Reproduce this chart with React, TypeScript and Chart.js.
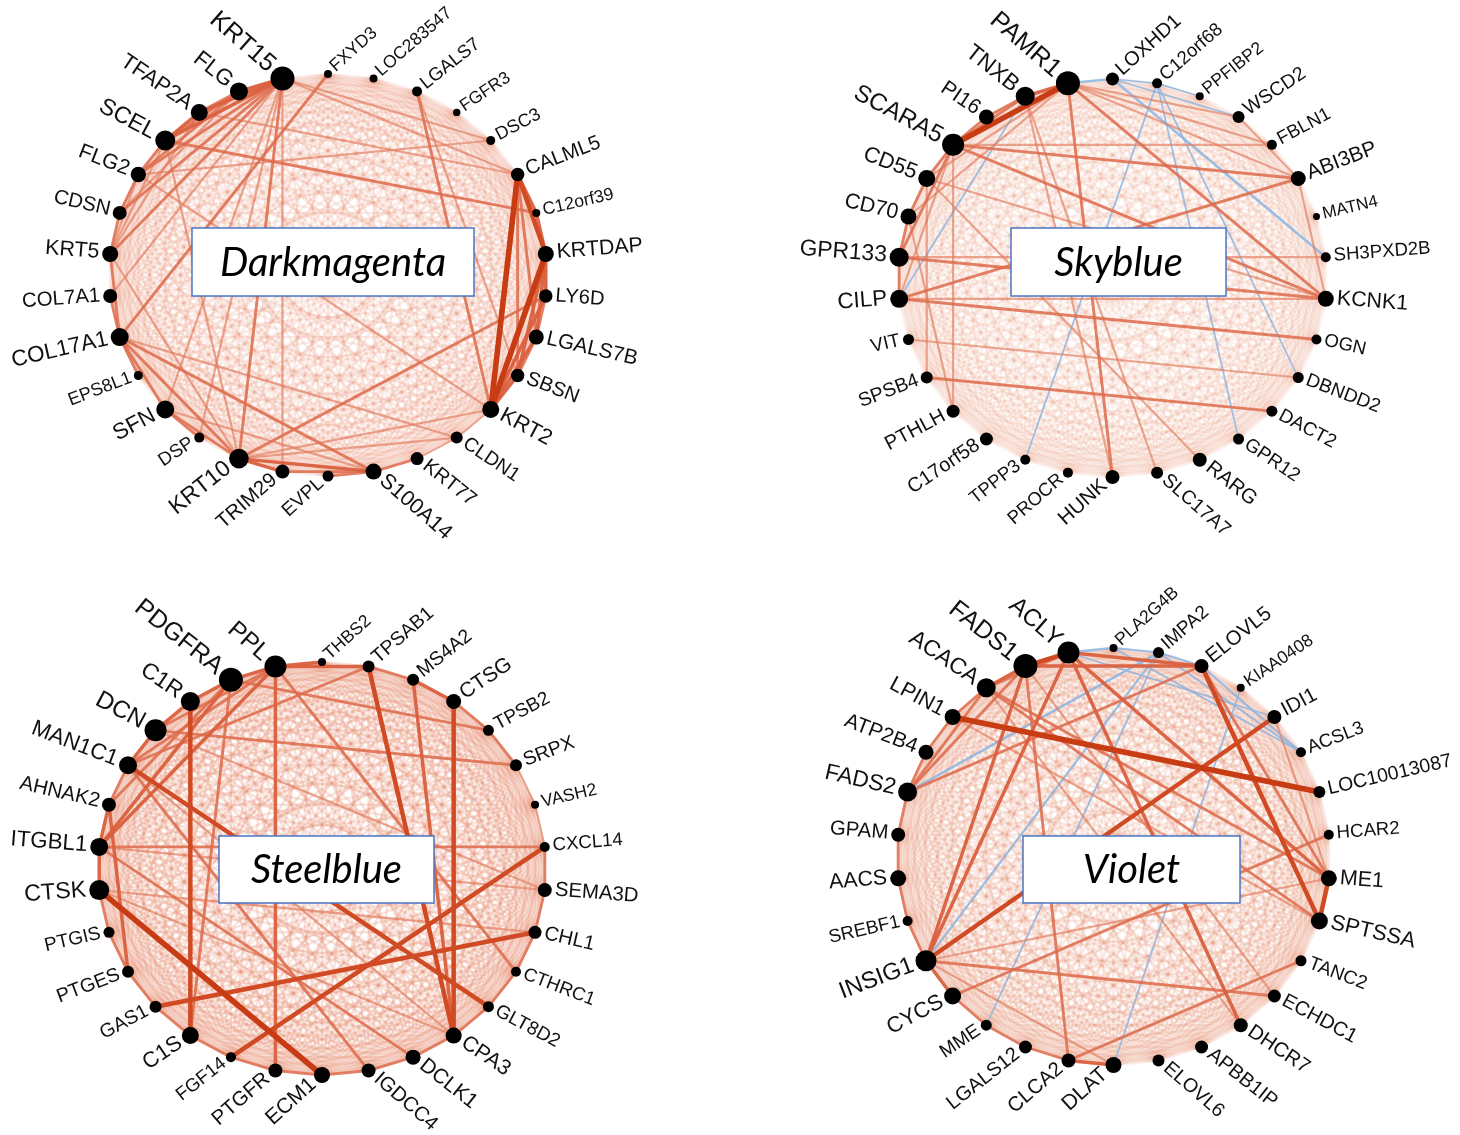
import React, { useEffect, useRef } from "react";
import { Chart, registerables } from "chart.js";
Chart.register(...registerables);

const W = 1460;
const H = 1135;

// ---------------- Darkmagenta module ----------------
const darkmagentaGenes = ["FXYD3","LOC283547","LGALS7","FGFR3","DSC3","CALML5","C12orf39","KRTDAP","LY6D","LGALS7B","SBSN","KRT2","CLDN1","KRT77","S100A14","EVPL","TRIM29","KRT10","DSP","SFN","EPS8L1","COL17A1","COL7A1","KRT5","CDSN","FLG2","SCEL","TFAP2A","FLG","KRT15"];
const darkmagentaSizes = [4,4,5,3.7,4.5,6.7,4,8,6.7,7.5,6.7,8.5,6,6.5,8,5.5,7,9.8,5,9,4.5,9,7,8,7,7.7,10,8.5,9,12];
const darkmagentaEdges: [string, string, number][] = [
  ["CALML5","KRT2",5],["KRTDAP","KRT2",5],["CALML5","KRTDAP",4],["CALML5","C12orf39",3],["C12orf39","KRTDAP",3],
  ["KRTDAP","LY6D",3],["KRTDAP","LGALS7B",3],["KRTDAP","SBSN",3],["LY6D","KRT2",3],["LGALS7B","KRT2",3],["SBSN","KRT2",3],
  ["CALML5","LGALS7B",2],["CALML5","SBSN",2],["LY6D","LGALS7B",2],["LGALS7B","SBSN",2],
  ["KRT15","FLG",3],["KRT15","TFAP2A",3],["KRT15","SCEL",3],["FLG","TFAP2A",2],["TFAP2A","SCEL",3],["SCEL","FLG2",2],
  ["KRT15","FLG2",2],["KRT15","CDSN",2],["KRT15","KRT5",2],["KRT15","COL7A1",1],["FLG","SCEL",2],["FLG","FLG2",2],
  ["FLG","CDSN",1],["TFAP2A","KRT5",1],["KRT15","KRT10",2],["KRT15","TRIM29",1],["KRT15","SFN",1],["KRT15","DSP",1],
  ["KRT15","DSC3",1],["KRT15","CALML5",1],["FXYD3","COL17A1",2],["SCEL","C12orf39",2],["TFAP2A","CALML5",1],["FLG2","DSC3",1],
  ["LGALS7","KRT2",2],["LGALS7","SBSN",1],
  ["KRT10","S100A14",3],["KRT10","TRIM29",3],["TRIM29","S100A14",2],["EVPL","S100A14",2],["KRT10","SFN",2],["SFN","DSP",2],
  ["KRT10","LY6D",2],["KRT10","COL17A1",2],["KRT10","KRT5",1],["KRT10","CLDN1",1],["KRT10","KRT2",1],["COL17A1","SFN",2],
  ["COL17A1","KRT5",2],["COL17A1","S100A14",2],["COL17A1","EPS8L1",2],["COL7A1","COL17A1",2],["KRT5","CDSN",2],["CDSN","FLG2",2],
  ["KRT5","FLG2",1],["KRT5","SCEL",1],["SFN","S100A14",1],["S100A14","KRT77",2],["KRT77","CLDN1",1],["CLDN1","KRT2",1],
  ["SCEL","KRT10",1],["COL17A1","CLDN1",1],["FLG2","KRT2",1]
];
const darkmagentaBlueEdges: [string, string, number][] = [];

// ---------------- Skyblue module ----------------
const skyblueGenes = ["LOXHD1","C12orf68","PPFIBP2","WSCD2","FBLN1","ABI3BP","MATN4","SH3PXD2B","KCNK1","OGN","DBNDD2","DACT2","GPR12","RARG","SLC17A7","HUNK","PROCR","TPPP3","C17orf58","PTHLH","SPSB4","VIT","CILP","GPR133","CD70","CD55","SCARA5","PI16","TNXB","PAMR1"];
const skyblueSizes = [6.5,5,4,6,5,7.5,3.5,5,8,5,5.5,5.5,5.5,7,6,7,5,5,6.5,6.5,6,5.5,9,9.5,8,8.5,11,7.5,9.5,12];
const skyblueEdges: [string, string, number][] = [
  ["PAMR1","SCARA5",5],["PAMR1","TNXB",3],["TNXB","PI16",2],["PI16","SCARA5",2],["SCARA5","CD55",2],["CD55","CD70",2],
  ["CD70","GPR133",2],["GPR133","CILP",2],["SCARA5","ABI3BP",2],["SCARA5","KCNK1",2],["SCARA5","FBLN1",1],["PAMR1","KCNK1",2],
  ["PAMR1","ABI3BP",1],["PAMR1","WSCD2",1],["PAMR1","FBLN1",1],["GPR133","KCNK1",2],["CILP","OGN",2],["CILP","KCNK1",1],
  ["ABI3BP","CILP",2],["SPSB4","DACT2",2],["VIT","DBNDD2",1],["PAMR1","HUNK",2],["TNXB","SLC17A7",1],["CD55","RARG",1],
  ["SCARA5","GPR133",2],["SCARA5","CILP",1],["PAMR1","CD55",1],["PAMR1","CD70",1],["TNXB","SCARA5",2],["PTHLH","CD70",1],
  ["PTHLH","SCARA5",1],["WSCD2","ABI3BP",1],["GPR133","SH3PXD2B",1],["ABI3BP","KCNK1",1],["CD55","KCNK1",1],["HUNK","TNXB",1],
  ["SPSB4","CD55",1]
];
const skyblueBlueEdges: [string, string, number][] = [
  ["PAMR1","LOXHD1",2],["LOXHD1","SH3PXD2B",2],["C12orf68","DBNDD2",1],["C12orf68","GPR12",1],["TPPP3","C12orf68",1],
  ["TNXB","CILP",1],["LOXHD1","C12orf68",1],["C12orf68","PPFIBP2",1],["LOXHD1","WSCD2",1]
];

// ---------------- Steelblue module ----------------
const steelblueGenes = ["THBS2","TPSAB1","MS4A2","CTSG","TPSB2","SRPX","VASH2","CXCL14","SEMA3D","CHL1","CTHRC1","GLT8D2","CPA3","DCLK1","IGDCC4","ECM1","PTGFR","FGF14","C1S","GAS1","PTGES","PTGIS","CTSK","ITGBL1","AHNAK2","MAN1C1","DCN","C1R","PDGFRA","PPL"];
const steelblueSizes = [4,6,6,7.5,5.5,6,4,5,7,6.5,5,5.5,8,7.5,7,8,7,5,8.5,6,6,5.5,10,9,7,9,11,9.5,12,11];
const steelblueEdges: [string, string, number][] = [
  ["CTSK","ECM1",5],["CTSG","CPA3",4],["TPSAB1","CPA3",4],["MS4A2","CPA3",3],["MAN1C1","GLT8D2",4],["GAS1","CHL1",4],
  ["FGF14","CXCL14",4],["C1R","C1S",4],["AHNAK2","PTGES",3],["PPL","PTGFR",3],["PPL","THBS2",3],["PPL","TPSAB1",3],
  ["TPSAB1","MS4A2",2],["MS4A2","CTSG",3],["PPL","ITGBL1",3],["PDGFRA","ITGBL1",3],["PDGFRA","AHNAK2",2],["TPSAB1","MAN1C1",2],
  ["MAN1C1","IGDCC4",2],["ITGBL1","CXCL14",2],["DCN","SRPX",2],["PDGFRA","TPSB2",2],["ITGBL1","DCLK1",2],["CTSK","CHL1",1],
  ["PDGFRA","PPL",3],["C1R","PDGFRA",3],["DCN","C1R",3],["MAN1C1","DCN",3],["AHNAK2","MAN1C1",2],["ITGBL1","AHNAK2",3],
  ["CTSK","ITGBL1",3],["CTSK","PTGIS",2],["PTGIS","PTGES",2],["PTGES","GAS1",2],["GAS1","C1S",2],["C1S","FGF14",2],
  ["FGF14","PTGFR",2],["PTGFR","ECM1",2],["ECM1","IGDCC4",2],["IGDCC4","DCLK1",2],["DCLK1","CPA3",2],["CPA3","GLT8D2",2],
  ["GLT8D2","CTHRC1",2],["CTHRC1","CHL1",2],["CHL1","SEMA3D",2],["SEMA3D","CXCL14",2],["CXCL14","VASH2",1],["VASH2","SRPX",1],
  ["SRPX","TPSB2",2],["TPSB2","CTSG",2],["PPL","CTHRC1",2],["DCN","SEMA3D",1],["PDGFRA","C1S",2],["PPL","DCN",2],
  ["PPL","MAN1C1",2],["CTSK","CPA3",1],["ITGBL1","SEMA3D",1],["MAN1C1","CPA3",1]
];
const steelblueBlueEdges: [string, string, number][] = [];

// ---------------- Violet module ----------------
const violetGenes = ["PLA2G4B","IMPA2","ELOVL5","KIAA0408","IDI1","ACSL3","LOC10013087","HCAR2","ME1","SPTSSA","TANC2","ECHDC1","DHCR7","APBB1IP","ELOVL6","DLAT","CLCA2","LGALS12","MME","CYCS","INSIG1","SREBF1","AACS","GPAM","FADS2","ATP2B4","LPIN1","ACACA","FADS1","ACLY"];
const violetSizes = [4,5.5,7,4,7,5,6,5,8,8.5,5.5,6.5,7,6.5,6,8,7,6.5,5.5,8.5,10.5,5,8,7,9.5,7.5,8,9.5,12,11];
const violetEdges: [string, string, number][] = [
  ["LPIN1","LOC10013087",5],["IDI1","INSIG1",4],["ELOVL5","SPTSSA",4],["ME1","SPTSSA",4],["ACLY","FADS1",4],
  ["FADS1","ACACA",3],["ACACA","LPIN1",2],["LPIN1","ATP2B4",2],["ATP2B4","FADS2",2],["FADS2","GPAM",2],["GPAM","AACS",2],
  ["AACS","SREBF1",2],["SREBF1","INSIG1",2],["INSIG1","CYCS",3],["CYCS","MME",2],["MME","LGALS12",2],["LGALS12","CLCA2",2],
  ["CLCA2","DLAT",3],["FADS1","INSIG1",3],["ACLY","INSIG1",3],["FADS1","CLCA2",2],["ACLY","ELOVL5",3],["FADS1","ELOVL5",3],
  ["ACLY","ME1",3],["ACACA","ME1",2],["ACLY","DHCR7",3],["CYCS","HCAR2",2],["CLCA2","TANC2",2],["INSIG1","ECHDC1",2],
  ["FADS2","ELOVL5",2],["ACACA","SPTSSA",2],["IDI1","ME1",1],["FADS1","FADS2",2],["ACACA","FADS2",2],["ACLY","ACACA",2],
  ["INSIG1","DLAT",1],["ELOVL5","ME1",2],["LPIN1","SPTSSA",1],["ACACA","DHCR7",1],["FADS1","ECHDC1",1],["INSIG1","ME1",1]
];
const violetBlueEdges: [string, string, number][] = [
  ["FADS2","IMPA2",2],["INSIG1","IMPA2",1.5],["ACLY","PLA2G4B",2],["PLA2G4B","IMPA2",1.5],["IMPA2","ELOVL5",1.5],
  ["ELOVL5","ACSL3",1.5],["IMPA2","ACSL3",1],["MME","IMPA2",1],["DLAT","KIAA0408",1],["ACLY","IDI1",1],["PLA2G4B","ACSL3",1]
];

// ---------------- layout (geometry and styling only) ----------------
type Panel = {
  title: string;
  genes: string[];
  sizes: number[];
  edges: [string, string, number][];
  blue: [string, string, number][];
  geom: { cx: number; cy: number; rx: number; ry: number };
  box: { x: number; y: number; w: number; h: number };
  web: number;
};

const panels: Panel[] = [
  { title: "Darkmagenta", genes: darkmagentaGenes, sizes: darkmagentaSizes, edges: darkmagentaEdges, blue: darkmagentaBlueEdges,
    geom: { cx: 328, cy: 275, rx: 219, ry: 201 }, box: { x: 192, y: 228, w: 282, h: 68 }, web: 0.17 },
  { title: "Skyblue", genes: skyblueGenes, sizes: skyblueSizes, edges: skyblueEdges, blue: skyblueBlueEdges,
    geom: { cx: 1112.5, cy: 278, rx: 214.5, ry: 199 }, box: { x: 1011, y: 228, w: 215, h: 68 }, web: 0.12 },
  { title: "Steelblue", genes: steelblueGenes, sizes: steelblueSizes, edges: steelblueEdges, blue: steelblueBlueEdges,
    geom: { cx: 322, cy: 868.5, rx: 224, ry: 206.5 }, box: { x: 219, y: 836, w: 215, h: 67 }, web: 0.24 },
  { title: "Violet", genes: violetGenes, sizes: violetSizes, edges: violetEdges, blue: violetBlueEdges,
    geom: { cx: 1113.5, cy: 856.5, rx: 216.5, ry: 208.5 }, box: { x: 1023, y: 836, w: 217, h: 67 }, web: 0.19 },
];

const edgeWidth = [0, 2.2, 2.9, 3.5, 4.5, 5.6];
const edgeColor = [
  "",
  "rgba(226,122,92,0.62)",
  "rgba(222,108,76,0.85)",
  "rgba(218,96,62,0.95)",
  "rgba(208,74,36,1)",
  "rgba(200,60,20,1)",
];

function nodePosition(p: Panel, i: number) {
  const t = (i * 2 * Math.PI) / p.genes.length;
  return { x: p.geom.cx + p.geom.rx * Math.sin(t), y: p.geom.cy - p.geom.ry * Math.cos(t) };
}

const networkPlugin = {
  id: "network",
  beforeDatasetsDraw(chart: any) {
    const ctx: CanvasRenderingContext2D = chart.ctx;
    ctx.save();
    ctx.lineCap = "round";
    panels.forEach((p, pi) => {
      const meta = chart.getDatasetMeta(pi);
      const pts = meta.data as any[];
      const idx = (g: string) => p.genes.indexOf(g);
      // weak web between every pair of module genes
      ctx.strokeStyle = `rgba(230,136,108,${p.web})`;
      ctx.lineWidth = 2.4;
      for (let i = 0; i < pts.length; i++) {
        for (let j = i + 1; j < pts.length; j++) {
          ctx.beginPath();
          ctx.moveTo(pts[i].x, pts[i].y);
          ctx.lineTo(pts[j].x, pts[j].y);
          ctx.stroke();
        }
      }
      // negative (blue) links
      p.blue.forEach(([a, b, w]) => {
        const A = pts[idx(a)], B = pts[idx(b)];
        if (!A || !B) return;
        ctx.strokeStyle = "rgba(140,182,228,0.85)";
        ctx.lineWidth = 0.9 + w * 0.8;
        ctx.beginPath();
        ctx.moveTo(A.x, A.y);
        ctx.lineTo(B.x, B.y);
        ctx.stroke();
      });
      // positive links, weakest first
      [...p.edges].sort((e1, e2) => e1[2] - e2[2]).forEach(([a, b, w]) => {
        const A = pts[idx(a)], B = pts[idx(b)];
        if (!A || !B) return;
        ctx.strokeStyle = edgeColor[w];
        ctx.lineWidth = edgeWidth[w];
        ctx.beginPath();
        ctx.moveTo(A.x, A.y);
        ctx.lineTo(B.x, B.y);
        ctx.stroke();
      });
    });
    ctx.restore();
  },
  afterDatasetsDraw(chart: any) {
    const ctx: CanvasRenderingContext2D = chart.ctx;
    ctx.save();
    ctx.fillStyle = "#111";
    ctx.textBaseline = "middle";
    panels.forEach((p, pi) => {
      const meta = chart.getDatasetMeta(pi);
      const pts = meta.data as any[];
      const n = p.genes.length;
      pts.forEach((el, i) => {
        const r = p.sizes[i];
        const fs = 13.8 + r * 0.95;
        const tDeg = (i * 360) / n;
        ctx.save();
        ctx.translate(el.x, el.y);
        ctx.font = `${fs.toFixed(1)}px "Liberation Sans", Arial, sans-serif`;
        if (tDeg < 180) {
          const th = ((90 - tDeg) * Math.PI) / 180;
          const rot = (-42 * Math.sin(th) * Math.PI) / 180;
          ctx.rotate(rot);
          ctx.textAlign = "left";
          ctx.fillText(p.genes[i], r + 3, -1);
        } else {
          const th = ((tDeg - 270) * Math.PI) / 180;
          const rot = (42 * Math.sin(th) * Math.PI) / 180;
          ctx.rotate(rot);
          ctx.textAlign = "right";
          ctx.fillText(p.genes[i], -(r + 3), -1);
        }
        ctx.restore();
      });
    });
    ctx.restore();
  },
  afterDraw(chart: any) {
    const ctx: CanvasRenderingContext2D = chart.ctx;
    ctx.save();
    panels.forEach((p) => {
      const b = p.box;
      ctx.fillStyle = "#ffffff";
      ctx.fillRect(b.x, b.y, b.w, b.h);
      ctx.strokeStyle = "#4a76c4";
      ctx.lineWidth = 1.5;
      ctx.strokeRect(b.x, b.y, b.w, b.h);
      ctx.fillStyle = "#000";
      ctx.font = 'italic 40px Lato, "Open Sans", sans-serif';
      ctx.textAlign = "center";
      ctx.textBaseline = "middle";
      ctx.fillText(p.title, b.x + b.w / 2, b.y + b.h / 2 + 1);
    });
    ctx.restore();
  },
};

export default function App() {
  const ref = useRef<HTMLCanvasElement | null>(null);
  useEffect(() => {
    if (!ref.current) return;
    const chart = new Chart(ref.current, {
      type: "scatter",
      data: {
        datasets: panels.map((p) => ({
          label: p.title,
          data: p.genes.map((_, i) => nodePosition(p, i)),
          pointRadius: p.sizes,
          pointHoverRadius: p.sizes,
          pointBackgroundColor: "#000",
          pointBorderWidth: 0,
          pointBorderColor: "#000",
          clip: false,
        })),
      },
      options: {
        animation: false,
        responsive: false,
        events: [],
        layout: { padding: 0, autoPadding: false },
        scales: {
          x: { type: "linear", min: 0, max: W, display: false },
          y: { type: "linear", min: 0, max: H, reverse: true, display: false },
        },
        plugins: { legend: { display: false }, tooltip: { enabled: false } },
      },
      plugins: [networkPlugin],
    });
    return () => chart.destroy();
  }, []);
  return (
    <div style={{ position: "absolute", left: 0, top: 0, width: W, height: H, background: "#fff" }}>
      <canvas ref={ref} width={W} height={H} style={{ width: W, height: H, display: "block" }} />
    </div>
  );
}
